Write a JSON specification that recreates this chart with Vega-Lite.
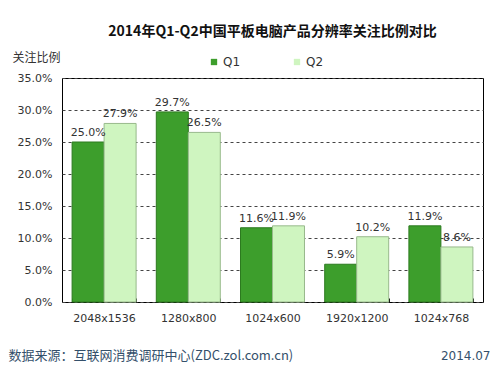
{
  "$schema": "https://vega.github.io/schema/vega-lite/v6.json",
  "width": 421,
  "height": 224,
  "autosize": "none",
  "padding": {"left": 62, "top": 78, "right": 17, "bottom": 73},
  "background": "white",
  "title": {
    "text": "2014年Q1-Q2中国平板电脑产品分辨率关注比例对比",
    "font": "Noto Sans CJK SC",
    "fontSize": 14,
    "fontWeight": "bold",
    "color": "#111",
    "anchor": "middle",
    "offset": 12
  },
  "data": {
    "values": [
      {"res": "2048x1536", "q": "Q1", "v": 0.250},
      {"res": "2048x1536", "q": "Q2", "v": 0.279},
      {"res": "1280x800", "q": "Q1", "v": 0.297},
      {"res": "1280x800", "q": "Q2", "v": 0.265},
      {"res": "1024x600", "q": "Q1", "v": 0.116},
      {"res": "1024x600", "q": "Q2", "v": 0.119},
      {"res": "1920x1200", "q": "Q1", "v": 0.059},
      {"res": "1920x1200", "q": "Q2", "v": 0.102},
      {"res": "1024x768", "q": "Q1", "v": 0.119},
      {"res": "1024x768", "q": "Q2", "v": 0.086}
    ]
  },
  "encoding": {
    "x": {
      "field": "res", "type": "nominal", "sort": null,
      "scale": {"paddingInner": 0.24, "paddingOuter": 0.12},
      "axis": {
        "labelAngle": 0, "labelFont": "DejaVu Sans", "labelFontSize": 11, "labelColor": "#333",
        "labelPadding": 14, "tickBand": "extent", "ticks": true, "tickSize": -4, "tickColor": "#000",
        "domain": false, "grid": false,
        "title": "数据来源：互联网消费调研中心(ZDC.zol.com.cn)",
        "titleFont": "Noto Sans CJK SC", "titleFontSize": 13, "titleFontWeight": "normal",
        "titleColor": "#34506b", "titleAlign": "left", "titleX": -54, "titleY": 53, "titleBaseline": "middle"
      }
    },
    "xOffset": {"field": "q", "type": "nominal", "scale": {"paddingInner": 0}},
    "y": {
      "field": "v", "type": "quantitative",
      "scale": {"domain": [0, 0.35]},
      "axis": {
        "values": [0, 0.05, 0.1, 0.15, 0.2, 0.25, 0.3, 0.35],
        "format": ".1%", "labelFont": "DejaVu Sans", "labelFontSize": 11, "labelColor": "#333",
        "ticks": false, "labelPadding": 10, "domain": false,
        "grid": true, "gridDash": [3, 3], "gridColor": "#444", "gridWidth": 1,
        "title": "关注比例", "titleFont": "Noto Sans CJK SC", "titleFontSize": 12, "titleFontWeight": "normal",
        "titleColor": "#333", "titleAngle": 0, "titleAlign": "left", "titleX": -50, "titleY": -21, "titleBaseline": "middle"
      }
    }
  },
  "layer": [
    {
      "mark": {"type": "bar", "strokeWidth": 1},
      "encoding": {
        "color": {
          "field": "q", "type": "nominal",
          "scale": {"domain": ["Q1", "Q2"], "range": ["#3d9e2c", "#cff5c0"]},
          "legend": {
            "title": null, "orient": "none", "direction": "horizontal",
            "legendX": 146, "legendY": -22, "columnPadding": 50,
            "symbolType": "square", "symbolSize": 40, "symbolStrokeWidth": 0,
            "labelFont": "DejaVu Sans", "labelFontSize": 12, "labelColor": "#333", "labelOffset": 3
          }
        },
        "stroke": {
          "field": "q", "type": "nominal",
          "scale": {"domain": ["Q1", "Q2"], "range": ["#2c7a1f", "#98b98c"]},
          "legend": null
        }
      }
    },
    {
      "mark": {"type": "text", "dy": -9, "font": "DejaVu Sans", "fontSize": 11, "color": "#333"},
      "encoding": {
        "text": {"field": "v", "type": "quantitative", "format": ".1%"},
        "y": {
          "field": "v", "type": "quantitative",
          "axis": {
            "orient": "right", "labels": false, "ticks": false, "domain": false, "grid": false,
            "title": "2014.07", "titleFont": "DejaVu Sans", "titleFontSize": 12, "titleFontWeight": "normal",
            "titleColor": "#34506b", "titleAngle": 0, "titleAlign": "right", "titleX": 7, "titleY": 277, "titleBaseline": "middle"
          }
        }
      }
    }
  ],
  "resolve": {"axis": {"y": "independent"}},
  "config": {
    "view": {"stroke": "#000", "strokeWidth": 1}
  }
}
